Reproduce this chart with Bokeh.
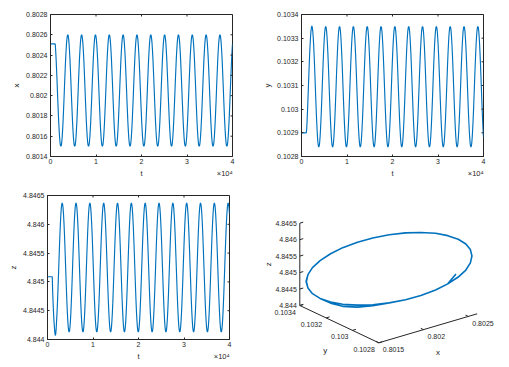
import numpy as np
from bokeh.plotting import figure
from bokeh.models import Range1d, FixedTicker, LinearAxis
from bokeh.layouts import column, row
from bokeh.embed import file_html
from bokeh.resources import INLINE
from bokeh.core.properties import value

# ---------------- data ----------------
t = list(range(0, 40000, 95)) + [40000]

x_vals = [
    0.80251, 0.80251, 0.80251, 0.80251, 0.80251, 0.80251, 0.80251, 0.80251, 0.80251, 0.80251, 0.80251, 0.80251, 0.80244, 0.80236, 0.80226, 0.80216, 0.80205, 0.80194, 0.80184, 0.80174, 0.80166, 0.80159, 0.80154, 0.80151, 0.80150, 0.80151, 0.80154, 0.80159, 0.80166, 0.80174, 0.80184, 0.80194,
    0.80205, 0.80216, 0.80226, 0.80236, 0.80244, 0.80251, 0.80256, 0.80259, 0.80260, 0.80259, 0.80256, 0.80251, 0.80244, 0.80236, 0.80226, 0.80216, 0.80205, 0.80194, 0.80184, 0.80174, 0.80166, 0.80159, 0.80154, 0.80151, 0.80150, 0.80151, 0.80154, 0.80159, 0.80166, 0.80174, 0.80184, 0.80194,
    0.80205, 0.80216, 0.80226, 0.80236, 0.80244, 0.80251, 0.80256, 0.80259, 0.80260, 0.80259, 0.80256, 0.80251, 0.80244, 0.80236, 0.80226, 0.80216, 0.80205, 0.80194, 0.80184, 0.80174, 0.80166, 0.80159, 0.80154, 0.80151, 0.80150, 0.80151, 0.80154, 0.80159, 0.80166, 0.80174, 0.80184, 0.80194,
    0.80205, 0.80216, 0.80226, 0.80236, 0.80244, 0.80251, 0.80256, 0.80259, 0.80260, 0.80259, 0.80256, 0.80251, 0.80244, 0.80236, 0.80226, 0.80216, 0.80205, 0.80194, 0.80184, 0.80174, 0.80166, 0.80159, 0.80154, 0.80151, 0.80150, 0.80151, 0.80154, 0.80159, 0.80166, 0.80174, 0.80184, 0.80194,
    0.80205, 0.80216, 0.80226, 0.80236, 0.80244, 0.80251, 0.80256, 0.80259, 0.80260, 0.80259, 0.80256, 0.80251, 0.80244, 0.80236, 0.80226, 0.80216, 0.80205, 0.80194, 0.80184, 0.80174, 0.80166, 0.80159, 0.80154, 0.80151, 0.80150, 0.80151, 0.80154, 0.80159, 0.80166, 0.80174, 0.80184, 0.80194,
    0.80205, 0.80216, 0.80226, 0.80236, 0.80244, 0.80251, 0.80256, 0.80259, 0.80260, 0.80259, 0.80256, 0.80251, 0.80244, 0.80236, 0.80226, 0.80216, 0.80205, 0.80194, 0.80184, 0.80174, 0.80166, 0.80159, 0.80154, 0.80151, 0.80150, 0.80151, 0.80154, 0.80159, 0.80166, 0.80174, 0.80184, 0.80194,
    0.80205, 0.80216, 0.80226, 0.80236, 0.80244, 0.80251, 0.80256, 0.80259, 0.80260, 0.80259, 0.80256, 0.80251, 0.80244, 0.80236, 0.80226, 0.80216, 0.80205, 0.80194, 0.80184, 0.80174, 0.80166, 0.80159, 0.80154, 0.80151, 0.80150, 0.80151, 0.80154, 0.80159, 0.80166, 0.80174, 0.80184, 0.80194,
    0.80205, 0.80216, 0.80226, 0.80236, 0.80244, 0.80251, 0.80256, 0.80259, 0.80260, 0.80259, 0.80256, 0.80251, 0.80244, 0.80236, 0.80226, 0.80216, 0.80205, 0.80194, 0.80184, 0.80174, 0.80166, 0.80159, 0.80154, 0.80151, 0.80150, 0.80151, 0.80154, 0.80159, 0.80166, 0.80174, 0.80184, 0.80194,
    0.80205, 0.80216, 0.80226, 0.80236, 0.80244, 0.80251, 0.80256, 0.80259, 0.80260, 0.80259, 0.80256, 0.80251, 0.80244, 0.80236, 0.80226, 0.80216, 0.80205, 0.80194, 0.80184, 0.80174, 0.80166, 0.80159, 0.80154, 0.80151, 0.80150, 0.80151, 0.80154, 0.80159, 0.80166, 0.80174, 0.80184, 0.80194,
    0.80205, 0.80216, 0.80226, 0.80236, 0.80244, 0.80251, 0.80256, 0.80259, 0.80260, 0.80259, 0.80256, 0.80251, 0.80244, 0.80236, 0.80226, 0.80216, 0.80205, 0.80194, 0.80184, 0.80174, 0.80166, 0.80159, 0.80154, 0.80151, 0.80150, 0.80151, 0.80154, 0.80159, 0.80166, 0.80174, 0.80184, 0.80194,
    0.80205, 0.80216, 0.80226, 0.80236, 0.80244, 0.80251, 0.80256, 0.80259, 0.80260, 0.80259, 0.80256, 0.80251, 0.80244, 0.80236, 0.80226, 0.80216, 0.80205, 0.80194, 0.80184, 0.80174, 0.80166, 0.80159, 0.80154, 0.80151, 0.80150, 0.80151, 0.80154, 0.80159, 0.80166, 0.80174, 0.80184, 0.80194,
    0.80205, 0.80216, 0.80226, 0.80236, 0.80244, 0.80251, 0.80256, 0.80259, 0.80260, 0.80259, 0.80256, 0.80251, 0.80244, 0.80236, 0.80226, 0.80216, 0.80205, 0.80194, 0.80184, 0.80174, 0.80166, 0.80159, 0.80154, 0.80151, 0.80150, 0.80151, 0.80154, 0.80159, 0.80166, 0.80174, 0.80184, 0.80194,
    0.80205, 0.80216, 0.80226, 0.80236, 0.80244, 0.80251, 0.80256, 0.80259, 0.80260, 0.80259, 0.80256, 0.80251, 0.80244, 0.80236, 0.80226, 0.80216, 0.80205, 0.80194, 0.80184, 0.80174, 0.80166, 0.80159, 0.80154, 0.80151, 0.80150, 0.80151, 0.80154, 0.80159, 0.80166, 0.80174, 0.80184, 0.80194,
    0.80205, 0.80216, 0.80226, 0.80236, 0.80244, 0.80251, 0.80251,
]

y_vals = [
    0.102900, 0.102900, 0.102900, 0.102900, 0.102900, 0.102900, 0.102900, 0.102900, 0.102900, 0.102900, 0.102900, 0.102900, 0.102915, 0.102953, 0.102997, 0.103045, 0.103095, 0.103145, 0.103193, 0.103237, 0.103275, 0.103307, 0.103331, 0.103345, 0.103352, 0.103345, 0.103331, 0.103307, 0.103275, 0.103237, 0.103193, 0.103145,
    0.103095, 0.103045, 0.102997, 0.102953, 0.102915, 0.102883, 0.102859, 0.102845, 0.102840, 0.102845, 0.102859, 0.102883, 0.102915, 0.102953, 0.102997, 0.103045, 0.103095, 0.103145, 0.103193, 0.103237, 0.103275, 0.103307, 0.103331, 0.103345, 0.103350, 0.103345, 0.103331, 0.103307, 0.103275, 0.103237, 0.103193, 0.103145,
    0.103095, 0.103045, 0.102997, 0.102953, 0.102915, 0.102883, 0.102859, 0.102845, 0.102840, 0.102845, 0.102859, 0.102883, 0.102915, 0.102953, 0.102997, 0.103045, 0.103095, 0.103145, 0.103193, 0.103237, 0.103275, 0.103307, 0.103331, 0.103345, 0.103350, 0.103345, 0.103331, 0.103307, 0.103275, 0.103237, 0.103193, 0.103145,
    0.103095, 0.103045, 0.102997, 0.102953, 0.102915, 0.102883, 0.102859, 0.102845, 0.102840, 0.102845, 0.102859, 0.102883, 0.102915, 0.102953, 0.102997, 0.103045, 0.103095, 0.103145, 0.103193, 0.103237, 0.103275, 0.103307, 0.103331, 0.103345, 0.103350, 0.103345, 0.103331, 0.103307, 0.103275, 0.103237, 0.103193, 0.103145,
    0.103095, 0.103045, 0.102997, 0.102953, 0.102915, 0.102883, 0.102859, 0.102845, 0.102840, 0.102845, 0.102859, 0.102883, 0.102915, 0.102953, 0.102997, 0.103045, 0.103095, 0.103145, 0.103193, 0.103237, 0.103275, 0.103307, 0.103331, 0.103345, 0.103350, 0.103345, 0.103331, 0.103307, 0.103275, 0.103237, 0.103193, 0.103145,
    0.103095, 0.103045, 0.102997, 0.102953, 0.102915, 0.102883, 0.102859, 0.102845, 0.102840, 0.102845, 0.102859, 0.102883, 0.102915, 0.102953, 0.102997, 0.103045, 0.103095, 0.103145, 0.103193, 0.103237, 0.103275, 0.103307, 0.103331, 0.103345, 0.103350, 0.103345, 0.103331, 0.103307, 0.103275, 0.103237, 0.103193, 0.103145,
    0.103095, 0.103045, 0.102997, 0.102953, 0.102915, 0.102883, 0.102859, 0.102845, 0.102840, 0.102845, 0.102859, 0.102883, 0.102915, 0.102953, 0.102997, 0.103045, 0.103095, 0.103145, 0.103193, 0.103237, 0.103275, 0.103307, 0.103331, 0.103345, 0.103350, 0.103345, 0.103331, 0.103307, 0.103275, 0.103237, 0.103193, 0.103145,
    0.103095, 0.103045, 0.102997, 0.102953, 0.102915, 0.102883, 0.102859, 0.102845, 0.102840, 0.102845, 0.102859, 0.102883, 0.102915, 0.102953, 0.102997, 0.103045, 0.103095, 0.103145, 0.103193, 0.103237, 0.103275, 0.103307, 0.103331, 0.103345, 0.103350, 0.103345, 0.103331, 0.103307, 0.103275, 0.103237, 0.103193, 0.103145,
    0.103095, 0.103045, 0.102997, 0.102953, 0.102915, 0.102883, 0.102859, 0.102845, 0.102840, 0.102845, 0.102859, 0.102883, 0.102915, 0.102953, 0.102997, 0.103045, 0.103095, 0.103145, 0.103193, 0.103237, 0.103275, 0.103307, 0.103331, 0.103345, 0.103350, 0.103345, 0.103331, 0.103307, 0.103275, 0.103237, 0.103193, 0.103145,
    0.103095, 0.103045, 0.102997, 0.102953, 0.102915, 0.102883, 0.102859, 0.102845, 0.102840, 0.102845, 0.102859, 0.102883, 0.102915, 0.102953, 0.102997, 0.103045, 0.103095, 0.103145, 0.103193, 0.103237, 0.103275, 0.103307, 0.103331, 0.103345, 0.103350, 0.103345, 0.103331, 0.103307, 0.103275, 0.103237, 0.103193, 0.103145,
    0.103095, 0.103045, 0.102997, 0.102953, 0.102915, 0.102883, 0.102859, 0.102845, 0.102840, 0.102845, 0.102859, 0.102883, 0.102915, 0.102953, 0.102997, 0.103045, 0.103095, 0.103145, 0.103193, 0.103237, 0.103275, 0.103307, 0.103331, 0.103345, 0.103350, 0.103345, 0.103331, 0.103307, 0.103275, 0.103237, 0.103193, 0.103145,
    0.103095, 0.103045, 0.102997, 0.102953, 0.102915, 0.102883, 0.102859, 0.102845, 0.102840, 0.102845, 0.102859, 0.102883, 0.102915, 0.102953, 0.102997, 0.103045, 0.103095, 0.103145, 0.103193, 0.103237, 0.103275, 0.103307, 0.103331, 0.103345, 0.103350, 0.103345, 0.103331, 0.103307, 0.103275, 0.103237, 0.103193, 0.103145,
    0.103095, 0.103045, 0.102997, 0.102953, 0.102915, 0.102883, 0.102859, 0.102845, 0.102840, 0.102845, 0.102859, 0.102883, 0.102915, 0.102953, 0.102997, 0.103045, 0.103095, 0.103145, 0.103193, 0.103237, 0.103275, 0.103307, 0.103331, 0.103345, 0.103350, 0.103345, 0.103331, 0.103307, 0.103275, 0.103237, 0.103193, 0.103145,
    0.103095, 0.103045, 0.102997, 0.102953, 0.102915, 0.102883, 0.102882,
]

z_vals = [
    4.845090, 4.845090, 4.845090, 4.845090, 4.845090, 4.845090, 4.845090, 4.845090, 4.845090, 4.845090, 4.845090, 4.845090, 4.844821, 4.844627, 4.844458, 4.844319, 4.844215, 4.844120, 4.844070, 4.844090, 4.844180, 4.844319, 4.844458, 4.844627, 4.844821, 4.845032, 4.845250, 4.845468, 4.845679, 4.845873, 4.846042, 4.846181,
    4.846285, 4.846349, 4.846370, 4.846349, 4.846285, 4.846181, 4.846042, 4.845873, 4.845679, 4.845468, 4.845250, 4.845032, 4.844821, 4.844627, 4.844458, 4.844319, 4.844215, 4.844151, 4.844130, 4.844151, 4.844215, 4.844319, 4.844458, 4.844627, 4.844821, 4.845032, 4.845250, 4.845468, 4.845679, 4.845873, 4.846042, 4.846181,
    4.846285, 4.846349, 4.846370, 4.846349, 4.846285, 4.846181, 4.846042, 4.845873, 4.845679, 4.845468, 4.845250, 4.845032, 4.844821, 4.844627, 4.844458, 4.844319, 4.844215, 4.844151, 4.844130, 4.844151, 4.844215, 4.844319, 4.844458, 4.844627, 4.844821, 4.845032, 4.845250, 4.845468, 4.845679, 4.845873, 4.846042, 4.846181,
    4.846285, 4.846349, 4.846370, 4.846349, 4.846285, 4.846181, 4.846042, 4.845873, 4.845679, 4.845468, 4.845250, 4.845032, 4.844821, 4.844627, 4.844458, 4.844319, 4.844215, 4.844151, 4.844130, 4.844151, 4.844215, 4.844319, 4.844458, 4.844627, 4.844821, 4.845032, 4.845250, 4.845468, 4.845679, 4.845873, 4.846042, 4.846181,
    4.846285, 4.846349, 4.846370, 4.846349, 4.846285, 4.846181, 4.846042, 4.845873, 4.845679, 4.845468, 4.845250, 4.845032, 4.844821, 4.844627, 4.844458, 4.844319, 4.844215, 4.844151, 4.844130, 4.844151, 4.844215, 4.844319, 4.844458, 4.844627, 4.844821, 4.845032, 4.845250, 4.845468, 4.845679, 4.845873, 4.846042, 4.846181,
    4.846285, 4.846349, 4.846370, 4.846349, 4.846285, 4.846181, 4.846042, 4.845873, 4.845679, 4.845468, 4.845250, 4.845032, 4.844821, 4.844627, 4.844458, 4.844319, 4.844215, 4.844151, 4.844130, 4.844151, 4.844215, 4.844319, 4.844458, 4.844627, 4.844821, 4.845032, 4.845250, 4.845468, 4.845679, 4.845873, 4.846042, 4.846181,
    4.846285, 4.846349, 4.846370, 4.846349, 4.846285, 4.846181, 4.846042, 4.845873, 4.845679, 4.845468, 4.845250, 4.845032, 4.844821, 4.844627, 4.844458, 4.844319, 4.844215, 4.844151, 4.844130, 4.844151, 4.844215, 4.844319, 4.844458, 4.844627, 4.844821, 4.845032, 4.845250, 4.845468, 4.845679, 4.845873, 4.846042, 4.846181,
    4.846285, 4.846349, 4.846370, 4.846349, 4.846285, 4.846181, 4.846042, 4.845873, 4.845679, 4.845468, 4.845250, 4.845032, 4.844821, 4.844627, 4.844458, 4.844319, 4.844215, 4.844151, 4.844130, 4.844151, 4.844215, 4.844319, 4.844458, 4.844627, 4.844821, 4.845032, 4.845250, 4.845468, 4.845679, 4.845873, 4.846042, 4.846181,
    4.846285, 4.846349, 4.846370, 4.846349, 4.846285, 4.846181, 4.846042, 4.845873, 4.845679, 4.845468, 4.845250, 4.845032, 4.844821, 4.844627, 4.844458, 4.844319, 4.844215, 4.844151, 4.844130, 4.844151, 4.844215, 4.844319, 4.844458, 4.844627, 4.844821, 4.845032, 4.845250, 4.845468, 4.845679, 4.845873, 4.846042, 4.846181,
    4.846285, 4.846349, 4.846370, 4.846349, 4.846285, 4.846181, 4.846042, 4.845873, 4.845679, 4.845468, 4.845250, 4.845032, 4.844821, 4.844627, 4.844458, 4.844319, 4.844215, 4.844151, 4.844130, 4.844151, 4.844215, 4.844319, 4.844458, 4.844627, 4.844821, 4.845032, 4.845250, 4.845468, 4.845679, 4.845873, 4.846042, 4.846181,
    4.846285, 4.846349, 4.846370, 4.846349, 4.846285, 4.846181, 4.846042, 4.845873, 4.845679, 4.845468, 4.845250, 4.845032, 4.844821, 4.844627, 4.844458, 4.844319, 4.844215, 4.844151, 4.844130, 4.844151, 4.844215, 4.844319, 4.844458, 4.844627, 4.844821, 4.845032, 4.845250, 4.845468, 4.845679, 4.845873, 4.846042, 4.846181,
    4.846285, 4.846349, 4.846370, 4.846349, 4.846285, 4.846181, 4.846042, 4.845873, 4.845679, 4.845468, 4.845250, 4.845032, 4.844821, 4.844627, 4.844458, 4.844319, 4.844215, 4.844151, 4.844130, 4.844151, 4.844215, 4.844319, 4.844458, 4.844627, 4.844821, 4.845032, 4.845250, 4.845468, 4.845679, 4.845873, 4.846042, 4.846181,
    4.846285, 4.846349, 4.846370, 4.846349, 4.846285, 4.846181, 4.846042, 4.845873, 4.845679, 4.845468, 4.845250, 4.845032, 4.844821, 4.844627, 4.844458, 4.844319, 4.844215, 4.844151, 4.844130, 4.844151, 4.844215, 4.844319, 4.844458, 4.844627, 4.844821, 4.845032, 4.845250, 4.845468, 4.845679, 4.845873, 4.846042, 4.846181,
    4.846285, 4.846349, 4.846370, 4.846349, 4.846285, 4.846181, 4.846175,
]

t_ticks = [0, 10000, 20000, 30000, 40000]
t_tick_labels = ["0", "1", "2", "3", "4"]
t_label_pos = [20000, 38300]
t_label_text = ["t", "×10⁴"]
x_ticks = [0.8014, 0.8016, 0.8018, 0.802, 0.8022, 0.8024, 0.8026, 0.8028]
x_tick_labels = ["0.8014", "0.8016", "0.8018", "0.802", "0.8022", "0.8024", "0.8026", "0.8028"]
y_ticks = [0.1028, 0.1029, 0.103, 0.1031, 0.1032, 0.1033, 0.1034]
y_tick_labels = ["0.1028", "0.1029", "0.103", "0.1031", "0.1032", "0.1033", "0.1034"]
z_ticks = [4.844, 4.8445, 4.845, 4.8455, 4.846, 4.8465]
z_tick_labels = ["4.844", "4.8445", "4.845", "4.8455", "4.846", "4.8465"]

x3_ticks = [0.8015, 0.802, 0.8025]
x3_tick_labels = ["0.8015", "0.802", "0.8025"]
y3_ticks = [0.1028, 0.103, 0.1032, 0.1034]
y3_tick_labels = ["0.1028", "0.103", "0.1032", "0.1034"]

# ---------------- style ----------------
BLUE = "#0072BD"
AX = "#262626"
FONT = "Liberation Sans"
TICK_FS = "7px"
LAB_FS = "8px"


def style_axis(ax, label_standoff, axis_standoff):
    ax.axis_line_color = AX
    ax.axis_line_width = 1
    ax.major_tick_line_color = AX
    ax.major_tick_in = 2
    ax.major_tick_out = 0
    ax.minor_tick_line_color = None
    ax.major_label_text_font = FONT
    ax.major_label_text_color = AX
    ax.major_label_text_font_size = TICK_FS
    ax.major_label_standoff = label_standoff
    ax.axis_label_text_font = FONT
    ax.axis_label_text_font_size = LAB_FS
    ax.axis_label_text_font_style = "normal"
    ax.axis_label_text_color = AX
    ax.axis_label_standoff = axis_standoff


def ts_fig(vals, yr, yticks, ylabels, ylab, w, h, bl, br, bt, bb):
    p = figure(width=w, height=h, x_range=Range1d(0, 40000), y_range=Range1d(*yr),
               output_backend="svg", toolbar_location=None, title=None,
               min_border_left=bl, min_border_right=br, min_border_top=bt, min_border_bottom=bb,
               y_axis_label=ylab)
    p.frame_align = False
    p.grid.visible = False
    p.outline_line_color = AX
    p.outline_line_width = 1
    p.line(t, vals, line_color=BLUE, line_width=1.15)

    p.xaxis.ticker = FixedTicker(ticks=t_ticks)
    p.xaxis.major_label_overrides = dict(zip(t_ticks, t_tick_labels))
    p.yaxis.ticker = FixedTicker(ticks=yticks)
    p.yaxis.major_label_overrides = dict(zip(yticks, ylabels))
    style_axis(p.xaxis[0], 2, 3)
    style_axis(p.yaxis[0], 3, 2)

    # second row under the t axis: the "t" name and the "×10⁴" exponent
    lab_axis = LinearAxis(ticker=FixedTicker(ticks=t_label_pos),
                          major_label_overrides=dict(zip(t_label_pos, t_label_text)))
    lab_axis.axis_line_color = None
    lab_axis.major_tick_line_color = None
    lab_axis.minor_tick_line_color = None
    lab_axis.major_tick_in = 0
    lab_axis.major_tick_out = 0
    lab_axis.major_label_standoff = 2
    lab_axis.major_label_text_font = FONT
    lab_axis.major_label_text_font_size = "7.5px"
    lab_axis.major_label_text_color = AX
    p.add_layout(lab_axis, "below")

    # inner ticks on the right and top edges of the box
    p.ray(x=[40000] * len(yticks), y=yticks, length=2, length_units="screen",
          angle=np.pi, line_color=AX, line_width=1)
    p.ray(x=t_ticks, y=[yr[1]] * len(t_ticks), length=2, length_units="screen",
          angle=-np.pi / 2, line_color=AX, line_width=1)
    return p


p1 = ts_fig(x_vals, (0.8014, 0.8028), x_ticks, x_tick_labels, "x", 255, 180, 50, 23, 14, 23)
p2 = ts_fig(y_vals, (0.1028, 0.1034), y_ticks, y_tick_labels, "y", 254, 180, 46, 26, 14, 23)
p3 = ts_fig(z_vals, (4.844, 4.8465), z_ticks, z_tick_labels, "z", 255, 187, 47, 26, 15, 28)

# ---------------- 3-D view (projected like MATLAB's default view) ----------------
X_LIM = (0.8015, 0.8026)
Y_LIM = (0.1028, 0.1034)
Z_LIM = (4.844, 4.8465)
ORIGIN = (123.3, 24.7)      # screen position of (xmin, ymin, zmin)
EX = (98.4, 29.0)           # screen vector of the full x extent
EY = (-79.0, 37.3)          # screen vector of the full y extent
EZ = 82.3                   # screen height of the full z extent


def proj(xv, yv, zv):
    xn = (np.asarray(xv, dtype=float) - X_LIM[0]) / (X_LIM[1] - X_LIM[0])
    yn = (np.asarray(yv, dtype=float) - Y_LIM[0]) / (Y_LIM[1] - Y_LIM[0])
    zn = (np.asarray(zv, dtype=float) - Z_LIM[0]) / (Z_LIM[1] - Z_LIM[0])
    sx = ORIGIN[0] + EX[0] * xn + EY[0] * yn
    sy = ORIGIN[1] + EX[1] * xn + EY[1] * yn + EZ * zn
    return sx, sy


p4 = figure(frame_width=254, frame_height=187, x_range=Range1d(0, 254), y_range=Range1d(0, 187),
            output_backend="svg", toolbar_location=None, title=None,
            min_border_left=0, min_border_right=0, min_border_top=0, min_border_bottom=0,
            x_axis_type=None, y_axis_type=None)
p4.frame_align = False
p4.grid.visible = False
p4.outline_line_color = None

# axis lines
ax_x0, ax_y0 = proj([X_LIM[0], X_LIM[0], X_LIM[0]], [Y_LIM[0], Y_LIM[0], Y_LIM[1]], [Z_LIM[0]] * 3)
ax_x1, ax_y1 = proj([X_LIM[1], X_LIM[0], X_LIM[0]], [Y_LIM[0], Y_LIM[1], Y_LIM[1]], [Z_LIM[0], Z_LIM[0], Z_LIM[1]])
p4.segment(ax_x0, ax_y0, ax_x1, ax_y1, line_color=AX, line_width=1)

# ticks
tk = 0.035
xt0, yt0 = proj(x3_ticks, [Y_LIM[0]] * 3, [Z_LIM[0]] * 3)
xt1, yt1 = proj(x3_ticks, [Y_LIM[0] + tk * (Y_LIM[1] - Y_LIM[0])] * 3, [Z_LIM[0]] * 3)
p4.segment(xt0, yt0, xt1, yt1, line_color=AX, line_width=1)
yt_x0, yt_y0 = proj([X_LIM[0]] * 4, y3_ticks, [Z_LIM[0]] * 4)
yt_x1, yt_y1 = proj([X_LIM[0] + tk * (X_LIM[1] - X_LIM[0])] * 4, y3_ticks, [Z_LIM[0]] * 4)
p4.segment(yt_x0, yt_y0, yt_x1, yt_y1, line_color=AX, line_width=1)
zt_x0, zt_y0 = proj([X_LIM[0]] * 6, [Y_LIM[1]] * 6, z_ticks)
zt_x1, zt_y1 = proj([X_LIM[0] + tk * (X_LIM[1] - X_LIM[0])] * 6, [Y_LIM[1]] * 6, z_ticks)
p4.segment(zt_x0, zt_y0, zt_x1, zt_y1, line_color=AX, line_width=1)

# trajectory
sx, sy = proj(x_vals, y_vals, z_vals)
p4.line(sx, sy, line_color=BLUE, line_width=1.6)

# tick labels
p4.text(x=list(zt_x0 - 3), y=list(zt_y0), text=z_tick_labels, text_align="right",
        text_baseline="middle", text_font=value(FONT), text_font_size="7px", text_color=AX)
p4.text(x=list(yt_x0 - 4), y=list(yt_y0 - 6.5), text=y3_tick_labels, text_align="right",
        text_baseline="middle", text_font=value(FONT), text_font_size="7px", text_color=AX)
p4.text(x=list(xt0 + 4), y=list(yt0 - 7), text=x3_tick_labels, text_align="left",
        text_baseline="middle", text_font=value(FONT), text_font_size="7px", text_color=AX)

# axis labels
zx, zy = proj([X_LIM[0]], [Y_LIM[1]], [0.5 * (Z_LIM[0] + Z_LIM[1])])
p4.text(x=[zx[0] - 31], y=[zy[0]], text=["z"], angle=np.pi / 2, text_align="center",
        text_baseline="middle", text_font=value(FONT), text_font_size="8px", text_color=AX)
yx, yy = proj([X_LIM[0]], [0.5 * (Y_LIM[0] + Y_LIM[1])], [Z_LIM[0]])
p4.text(x=[yx[0] - 14], y=[yy[0] - 26], text=["y"], text_align="center",
        text_baseline="middle", text_font=value(FONT), text_font_size="8px", text_color=AX)
xx, xy = proj([0.5 * (X_LIM[0] + X_LIM[1])], [Y_LIM[0]], [Z_LIM[0]])
p4.text(x=[xx[0] + 10], y=[xy[0] - 24], text=["x"], text_align="center",
        text_baseline="middle", text_font=value(FONT), text_font_size="8px", text_color=AX)

layout = column(row(p1, p2), row(p3, p4))
open("out.html", "w").write(file_html(layout, INLINE))
